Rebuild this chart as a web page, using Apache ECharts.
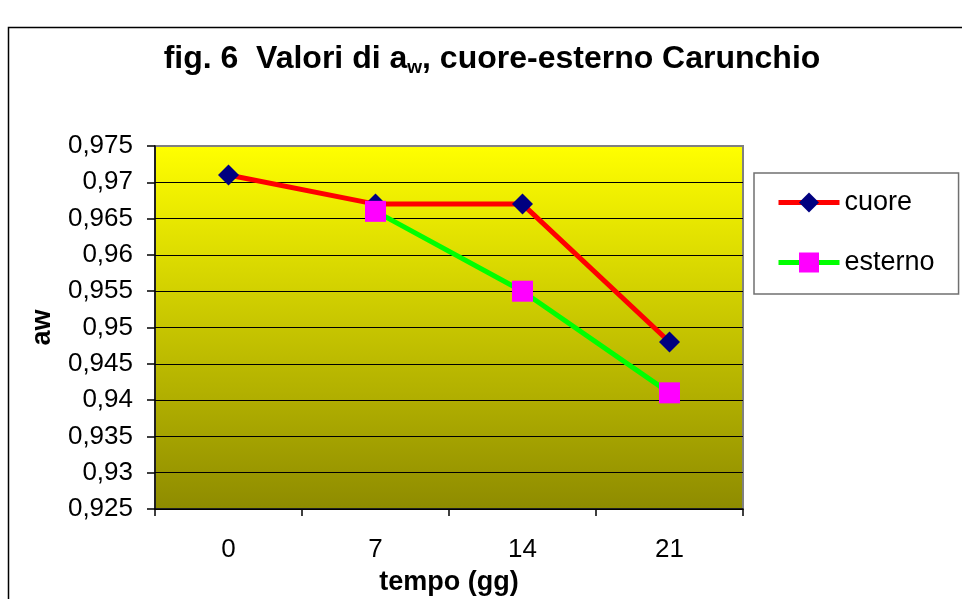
<!DOCTYPE html>
<html>
<head>
<meta charset="utf-8">
<script src="https://cdn.jsdelivr.net/npm/echarts@6/dist/echarts.min.js"></script>
<style>
  html, body { margin: 0; padding: 0; background: #ffffff; }
  #chart { width: 962px; height: 599px; }
</style>
</head>
<body>
<div id="chart"></div>
<script>
// Sampling days and water activity readings
const categories = ['0', '7', '14', '21'];
const cuore = [0.971, 0.967, 0.967, 0.948];
const esterno = [null, 0.966, 0.955, 0.941];

// Value axis range
const yMin = 0.925;
const yMax = 0.975;
const yStep = 0.005;

const FONT = '"Liberation Sans", Arial, sans-serif';

const chart = echarts.init(document.getElementById('chart'), null, { renderer: 'canvas' });

// Number of split lines, so the topmost one can be left to the grid border
const nLines = Math.round((yMax - yMin) / yStep) + 1;
const splitColors = [];
for (let i = 0; i < nLines; i++) splitColors.push(i === nLines - 1 ? 'rgba(0,0,0,0)' : '#000000');

chart.setOption({
  animation: false,
  backgroundColor: '#ffffff',
  title: {
    text: 'fig. 6  Valori di a{sub|w}, cuore-esterno Carunchio',
    left: 492,
    top: 41,
    textAlign: 'center',
    padding: 0,
    textStyle: {
      fontFamily: FONT,
      fontSize: 32,
      fontWeight: 'bold',
      color: '#000000',
      lineHeight: 36,
      rich: {
        sub: {
          fontFamily: FONT,
          fontSize: 19,
          fontWeight: 'bold',
          color: '#000000',
          lineHeight: 18,
          verticalAlign: 'bottom'
        }
      }
    }
  },
  graphic: [{
    type: 'rect',
    silent: true,
    z: -1,
    shape: { x: 8.5, y: 27.5, width: 1000, height: 700 },
    style: { fill: 'none', stroke: '#000000', lineWidth: 1.5 }
  }],
  legend: {
    left: 754,
    top: 173,
    orient: 'vertical',
    itemWidth: 61,
    itemHeight: 25,
    itemGap: 33,
    padding: [16, 24, 18, 22],
    backgroundColor: '#ffffff',
    borderColor: '#707070',
    borderWidth: 1.5,
    borderRadius: 0,
    lineStyle: { width: 5 },
    textStyle: { fontFamily: FONT, fontSize: 27, color: '#000000', padding: [0, 0, 0, 0] },
    data: ['cuore', 'esterno']
  },
  grid: {
    left: 155,
    top: 146,
    right: 219,
    bottom: 90,
    outerBoundsMode: 'none',
    containLabel: false,
    show: true,
    borderColor: '#808080',
    borderWidth: 2,
    backgroundColor: {
      type: 'linear', x: 0, y: 0, x2: 0, y2: 1,
      colorStops: [
        { offset: 0, color: '#FFFF00' },
        { offset: 1, color: '#8E8B00' }
      ]
    }
  },
  xAxis: {
    type: 'category',
    data: categories,
    boundaryGap: true,
    name: 'tempo (gg)',
    nameLocation: 'middle',
    nameGap: 60,
    nameTextStyle: { fontFamily: FONT, fontSize: 27, fontWeight: 'bold', color: '#000000' },
    axisLine: { lineStyle: { color: '#000000', width: 1.5 } },
    axisTick: { show: true, inside: false, length: 7, alignWithLabel: false, lineStyle: { color: '#000000', width: 1.5 } },
    axisLabel: { fontFamily: FONT, fontSize: 26, color: '#000000', margin: 28 },
    splitLine: { show: false }
  },
  yAxis: {
    type: 'value',
    min: yMin,
    max: yMax,
    interval: yStep,
    name: 'aw',
    nameLocation: 'middle',
    nameGap: 99,
    nameRotate: 90,
    nameTextStyle: { fontFamily: FONT, fontSize: 27, fontWeight: 'bold', color: '#000000' },
    axisLine: { show: true, lineStyle: { color: '#000000', width: 1.5 } },
    axisTick: { show: true, inside: false, length: 8, lineStyle: { color: '#000000', width: 1.5 } },
    axisLabel: {
      fontFamily: FONT,
      fontSize: 26,
      color: '#000000',
      margin: 22,
      formatter: v => String(+v.toFixed(3)).replace('.', ',')
    },
    splitLine: { show: true, lineStyle: { color: splitColors, width: 1.2 } }
  },
  series: [
    {
      name: 'cuore',
      type: 'line',
      data: cuore,
      symbol: 'diamond',
      symbolSize: 21,
      itemStyle: { color: '#000080' },
      lineStyle: { color: '#FF0000', width: 5 }
    },
    {
      name: 'esterno',
      type: 'line',
      data: esterno,
      symbol: 'rect',
      symbolSize: 21,
      itemStyle: { color: '#FF00FF' },
      lineStyle: { color: '#00FF00', width: 5 }
    }
  ]
});
</script>
</body>
</html>
